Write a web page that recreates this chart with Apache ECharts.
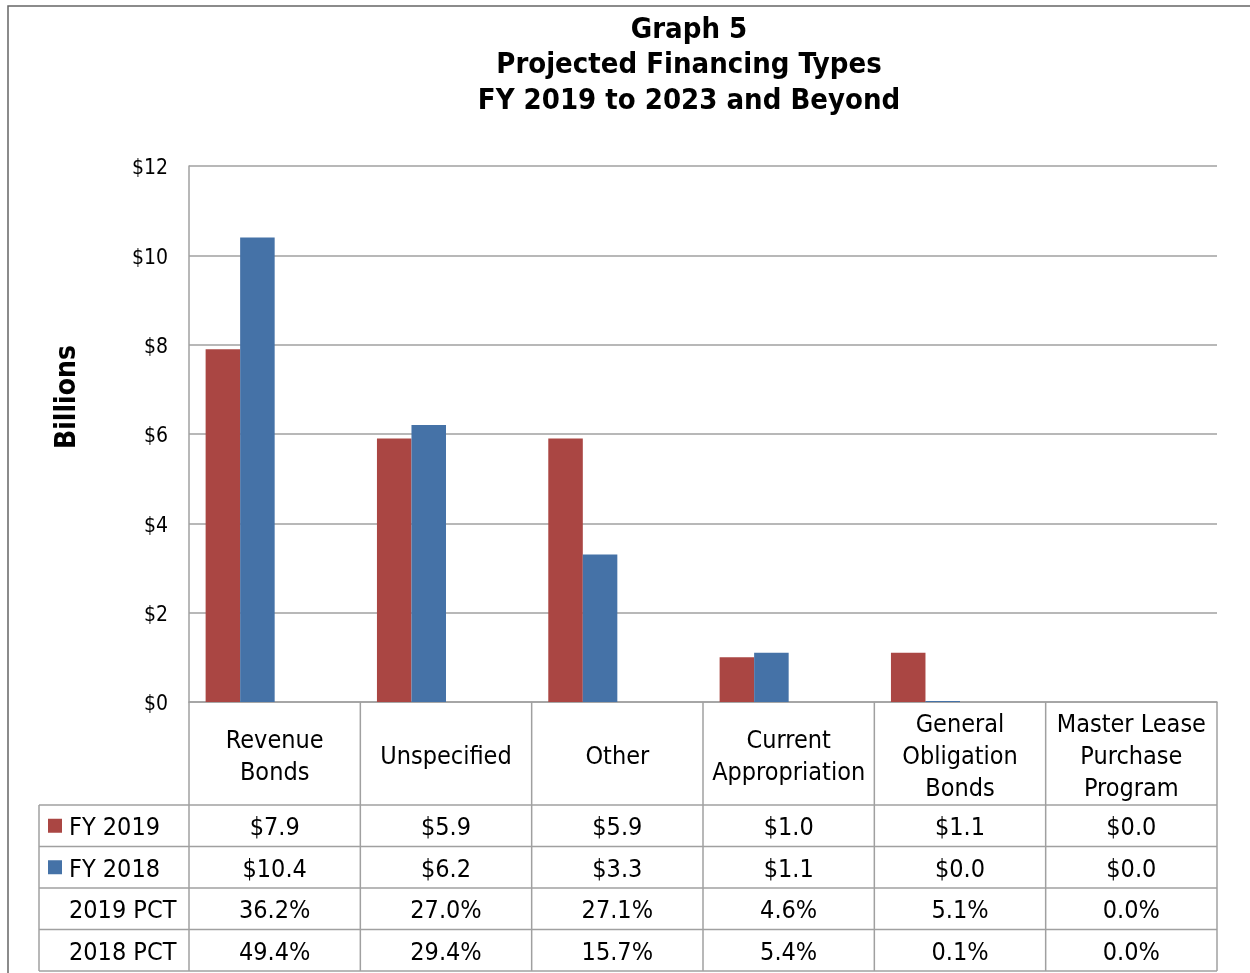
<!DOCTYPE html>
<html><head><meta charset="utf-8">
<script src="https://cdn.jsdelivr.net/npm/echarts@6/dist/echarts.min.js"></script>
<style>html,body{margin:0;padding:0;background:#fff}#c{width:1250px;height:973px}</style>
</head><body><div id="c"></div>
<script>
const categories = ['Revenue\nBonds','Unspecified','Other','Current\nAppropriation','General\nObligation\nBonds','Master Lease\nPurchase\nProgram'];
const fy2019 = [7.9, 5.9, 5.9, 1.0, 1.1, 0.0];
const fy2018 = [10.4, 6.2, 3.3, 1.1, 0.02, 0.0];
const pct2019 = ['36.2%','27.0%','27.1%','4.6%','5.1%','0.0%'];
const pct2018 = ['49.4%','29.4%','15.7%','5.4%','0.1%','0.0%'];
const seriesNames = ['FY 2019','FY 2018','2019 PCT','2018 PCT'];
const titleLines = ['Graph 5','Projected Financing Types','FY 2019 to 2023 and Beyond'];
const yName = 'Billions';

const FONT = '"DejaVu Sans Condensed", "DejaVu Sans", sans-serif';
const RED = '#AA4643', BLUE = '#4572A7', LINE = '#a0a0a0';

const chart = echarts.init(document.getElementById('c'), null, {renderer: 'canvas'});
const option = {
  animation: false,
  backgroundColor: '#fff',
  grid: {left: 189, right: 33, top: 166, bottom: 271, containLabel: false},
  xAxis: {
    type: 'category', data: categories,
    axisLine: {show: true, lineStyle: {color: LINE, width: 1.5}},
    axisTick: {show: false},
    axisLabel: {interval: 0, fontFamily: FONT, fontSize: 25, color: '#000', lineHeight: 32, verticalAlign: 'middle', margin: 55}
  },
  yAxis: {
    type: 'value', min: 0, max: 12, interval: 2,
    axisLine: {show: true, lineStyle: {color: LINE, width: 1.5}},
    axisTick: {show: false},
    splitLine: {lineStyle: {color: LINE, width: 1.5}},
    axisLabel: {
      margin: 21, formatter: v => '{t|$' + v + '}',
      rich: {t: {fontFamily: FONT, fontSize: 21, color: '#000', padding: [6, 0, 0, 0]}}
    }
  },
  series: [
    {name: seriesNames[0], type: 'bar', data: fy2019, barGap: '0%', barCategoryGap: '19.4%', itemStyle: {color: RED}},
    {name: seriesNames[1], type: 'bar', data: fy2018, itemStyle: {color: BLUE}},
    {name: seriesNames[2], type: 'bar', data: pct2019.map(() => '-')},
    {name: seriesNames[3], type: 'bar', data: pct2018.map(() => '-')}
  ]
};
chart.setOption(option);

// Data table built from the axis scale
const n = categories.length;
const c0 = chart.convertToPixel({xAxisIndex: 0}, 0);
const c1 = chart.convertToPixel({xAxisIndex: 0}, 1);
const bw = c1 - c0;
const gl = c0 - bw / 2;
const gr = gl + bw * n;
const axisY = chart.convertToPixel({yAxisIndex: 0}, 0);
const headerBottom = axisY + 103;
const rowH = 41.5;
const tableLeft = 39;
const rows = [
  {label: seriesNames[0], key: RED, vals: fy2019.map(v => '$' + v.toFixed(1))},
  {label: seriesNames[1], key: BLUE, vals: fy2018.map(v => '$' + v.toFixed(1))},
  {label: seriesNames[2], key: null, vals: pct2019},
  {label: seriesNames[3], key: null, vals: pct2018}
];
const tableBottom = headerBottom + rowH * rows.length;
const g = [];
const line = (x1, y1, x2, y2) => g.push({type: 'line', shape: {x1, y1, x2, y2}, style: {stroke: LINE, lineWidth: 1.5}, silent: true});
// outer frame
g.push({type: 'rect', shape: {x: 8, y: 6, width: 1300, height: 1000}, style: {fill: null, stroke: '#666', lineWidth: 1.5}, silent: true});
for (let k = 0; k <= n; k++) line(gl + k * bw, axisY, gl + k * bw, tableBottom);
line(tableLeft, headerBottom, tableLeft, tableBottom);
for (let r = 0; r <= rows.length; r++) line(tableLeft, headerBottom + r * rowH, gr, headerBottom + r * rowH);
rows.forEach((row, r) => {
  const cy = headerBottom + r * rowH + rowH / 2;
  if (row.key) g.push({type: 'rect', shape: {x: 48, y: cy - 7, width: 14, height: 14}, style: {fill: row.key}, silent: true});
  g.push({type: 'text', x: 69, y: cy + 3, style: {text: row.label, font: '25px ' + FONT, fill: '#000', textAlign: 'left', textVerticalAlign: 'middle'}, silent: true});
  row.vals.forEach((v, i) => {
    g.push({type: 'text', x: gl + (i + 0.5) * bw, y: cy + 3, style: {text: v, font: '25px ' + FONT, fill: '#000', textAlign: 'center', textVerticalAlign: 'middle'}, silent: true});
  });
});
// title
titleLines.forEach((t, i) => {
  g.push({type: 'text', x: 689, y: 30 + i * 35.5, style: {text: t, font: 'bold 29px ' + FONT, fill: '#000', textAlign: 'center', textVerticalAlign: 'middle'}, silent: true});
});
// y axis name
g.push({type: 'text', x: 68, y: 397, rotation: Math.PI / 2, style: {text: yName, font: 'bold 28px ' + FONT, fill: '#000', textAlign: 'center', textVerticalAlign: 'middle'}, silent: true});
chart.setOption({graphic: g});
</script>
</body></html>
